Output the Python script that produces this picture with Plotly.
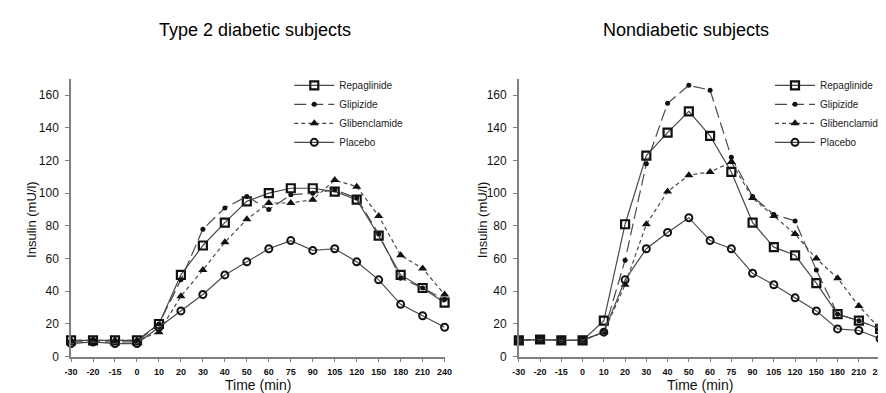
import plotly.graph_objects as go

# ---------------- data ----------------
time_labels = ["-30", "-20", "-15", "0", "10", "20", "30", "40", "50", "60",
               "75", "90", "105", "120", "150", "180", "210", "240"]

series_names = ["Repaglinide", "Glipizide", "Glibenclamide", "Placebo"]

# Type 2 diabetic subjects
repa_t2 = [10, 10, 10, 10, 20, 50, 68, 82, 95, 100, 103, 103, 101, 96, 74, 50, 42, 33]
glip_t2 = [9, 9, 9, 9, 20, 47, 78, 91, 98, 90, 99, 100, 102, 97, 75, 48, 42, 35]
glib_t2 = [10, 10, 10, 10, 15, 37, 53, 70, 84, 94, 94, 96, 108, 104, 86, 62, 54, 38]
plac_t2 = [8, 9, 8, 8, 18, 28, 38, 50, 58, 66, 71, 65, 66, 58, 47, 32, 25, 18]

# Nondiabetic subjects
repa_nd = [10, 10.5, 10, 10, 22, 81, 123, 137, 150, 135, 113, 82, 67, 62, 45, 26, 22, 17]
glip_nd = [10, 10.5, 10, 10, 15, 59, 118, 155, 166, 163, 122, 98, 87, 83, 53, 26, 22, 17]
glib_nd = [10, 10.5, 10, 10, 15, 44, 81, 101, 111, 113, 119, 97, 86, 75, 60, 48, 31, 17]
plac_nd = [10, 10.5, 10, 10, 15, 47, 66, 76, 85, 71, 66, 51, 44, 36, 28, 17, 16, 11]

y_ticks = [0, 20, 40, 60, 80, 100, 120, 140, 160]

panel_titles = ["Type 2 diabetic subjects", "Nondiabetic subjects"]
y_title = "Insulin (mU/l)"
x_title = "Time (min)"

# ---------------- styles ----------------
FONT = "Liberation Sans, Arial, sans-serif"
LINE_COL = "#4a4a4a"
MARK_COL = "#111111"
styles = {
    "Repaglinide": dict(dash="solid", symbol="square-open", size=8, lw=2.2),
    "Glipizide": dict(dash="12px,5px", symbol="circle", size=5, lw=0),
    "Glibenclamide": dict(dash="4px,3px", symbol="triangle-up", size=8, lw=0),
    "Placebo": dict(dash="solid", symbol="circle-open", size=7, lw=2.0),
}

fig = go.Figure()

panels = [
    ("x", "y", "legend", [repa_t2, glip_t2, glib_t2, plac_t2]),
    ("x2", "y2", "legend2", [repa_nd, glip_nd, glib_nd, plac_nd]),
]
for xa, ya, leg, data in panels:
    for name, vals in zip(series_names, data):
        st = styles[name]
        fig.add_trace(go.Scatter(
            x=time_labels, y=vals, name=name, xaxis=xa, yaxis=ya, legend=leg,
            mode="lines+markers", cliponaxis=False,
            line=dict(color=LINE_COL, width=1.2, dash=st["dash"]),
            marker=dict(symbol=st["symbol"], size=st["size"], color=MARK_COL,
                        line=dict(color=MARK_COL, width=st["lw"])),
        ))

W, H = 886, 393
y_dom = [1 - 355 / H, 1 - 72 / H]
x_doms = [[57 / W, 437 / W], [512.5 / W, 880 / W]]

axis_common = dict(showgrid=False, zeroline=False, showline=True,
                   linecolor="#808080", linewidth=1.5, ticks="outside",
                   ticklen=4, tickwidth=1, tickcolor="#808080")

layout = dict(
    width=W, height=H, margin=dict(l=0, r=0, t=0, b=0),
    paper_bgcolor="white", plot_bgcolor="white",
    font=dict(family=FONT, color="#222222"),
    showlegend=True,
)
for i, (xa, ya) in enumerate([("xaxis", "yaxis"), ("xaxis2", "yaxis2")]):
    anchor_x = "y" if i == 0 else "y2"
    anchor_y = "x" if i == 0 else "x2"
    layout[xa] = dict(axis_common, domain=x_doms[i], anchor=anchor_x,
                      type="category", categoryorder="array",
                      categoryarray=time_labels, range=[0, 17],
                      tickfont=dict(size=9, color="#111111", family=FONT,
                                    weight="bold"),
                      tickangle=0, ticklabelstandoff=2)
    layout[ya] = dict(axis_common, domain=y_dom, anchor=anchor_y,
                      range=[0, 170], tickvals=y_ticks, ticklabelstandoff=4,
                      tickfont=dict(size=12, color="#111111", family=FONT))

leg_common = dict(bgcolor="rgba(0,0,0,0)", borderwidth=0,
                  font=dict(size=10, family=FONT, color="#222222"),
                  xanchor="left", yanchor="top", itemwidth=40,
                  tracegroupgap=0)
layout["legend"] = dict(leg_common, x=279 / W, y=1 - 64 / H)
layout["legend2"] = dict(leg_common, x=768 / W, y=1 - 64 / H)

fig.update_layout(**layout)

# titles and axis titles
ann = []
for i, t in enumerate(panel_titles):
    cx = [244, 683][i]
    ann.append(dict(text=t, x=cx / W, y=1 - 22 / H, xref="paper", yref="paper",
                    showarrow=False, xanchor="center", yanchor="middle",
                    font=dict(size=18, family=FONT, color="#000000")))
    ann.append(dict(text=x_title, x=[247, 697][i] / W, y=1 - 384 / H,
                    xref="paper", yref="paper", showarrow=False,
                    xanchor="center", yanchor="middle",
                    font=dict(size=14, family=FONT, color="#111111")))
    ann.append(dict(text=y_title, x=[16, 475][i] / W, y=1 - 215 / H,
                    xref="paper", yref="paper", showarrow=False, textangle=-90,
                    xanchor="center", yanchor="middle",
                    font=dict(size=13, family=FONT, color="#111111")))
fig.update_layout(annotations=ann)

fig.write_html("out.html")
